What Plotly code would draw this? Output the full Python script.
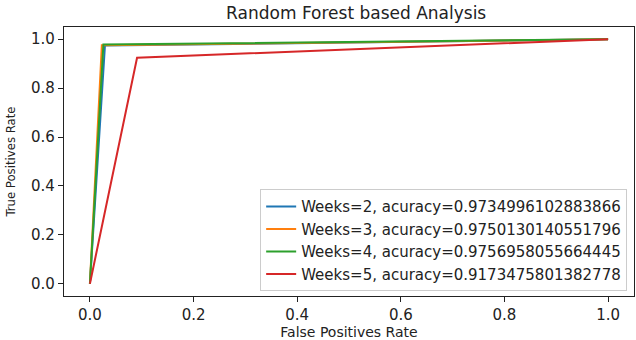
import plotly.graph_objects as go

weeks = [2, 3, 4, 5]
accuracies = ["0.9734996102883866", "0.9750130140551796", "0.9756958055664445", "0.9173475801382778"]
fpr = [
    [0.0, 0.029, 1.0],
    [0.0, 0.023, 1.0],
    [0.0, 0.026, 1.0],
    [0.0, 0.091, 1.0],
]
tpr = [
    [0.0, 0.974, 1.0],
    [0.0, 0.975, 1.0],
    [0.0, 0.978, 1.0],
    [0.0, 0.924, 1.0],
]
colors = ["#1f77b4", "#ff7f0e", "#2ca02c", "#d62728"]
tick_vals = [0.0, 0.2, 0.4, 0.6, 0.8, 1.0]
tick_text = ["0.0", "0.2", "0.4", "0.6", "0.8", "1.0"]

FONT = "DejaVu Sans"

fig = go.Figure()
for w, a, x, y, c in zip(weeks, accuracies, fpr, tpr, colors):
    fig.add_trace(go.Scatter(
        x=x, y=y, mode="lines",
        line=dict(color=c, width=2),
        name=f"Weeks={w}, acuracy={a}",
    ))

axis_common = dict(
    showline=True, linecolor="#222", linewidth=1.2, mirror=True,
    ticks="outside", ticklen=5, tickwidth=1.2, tickcolor="#222",
    showgrid=False, zeroline=False,
    tickfont=dict(family=FONT, size=15, color="#222"),
    tickvals=tick_vals, ticktext=tick_text,
)

fig.update_layout(
    width=636, height=340,
    margin=dict(l=64, r=1, t=27, b=42),
    paper_bgcolor="white", plot_bgcolor="white",
    title=dict(text="Random Forest based Analysis", x=0.56, xanchor="center",
               y=0.962, yanchor="middle",
               font=dict(family=FONT, size=17, color="#222")),
    xaxis=dict(range=[-0.05, 1.05],
               ticklabelstandoff=0,
               title=dict(text="False Positives Rate", standoff=5,
                          font=dict(family=FONT, size=14, color="#222")),
               **axis_common),
    yaxis=dict(range=[-0.05, 1.05],
               title=dict(text="True Positives Rate", standoff=12,
                          font=dict(family="DejaVu Sans Condensed, DejaVu Sans", size=13, color="#222")),
               **axis_common),
    legend=dict(x=0.988, y=0.018, xanchor="right", yanchor="bottom",
                bgcolor="rgba(255,255,255,0.8)", bordercolor="#cccccc", borderwidth=1,
                font=dict(family=FONT, size=15, color="#222"),
                tracegroupgap=0, itemwidth=30),
    showlegend=True,
)

fig.write_html("out.html")
